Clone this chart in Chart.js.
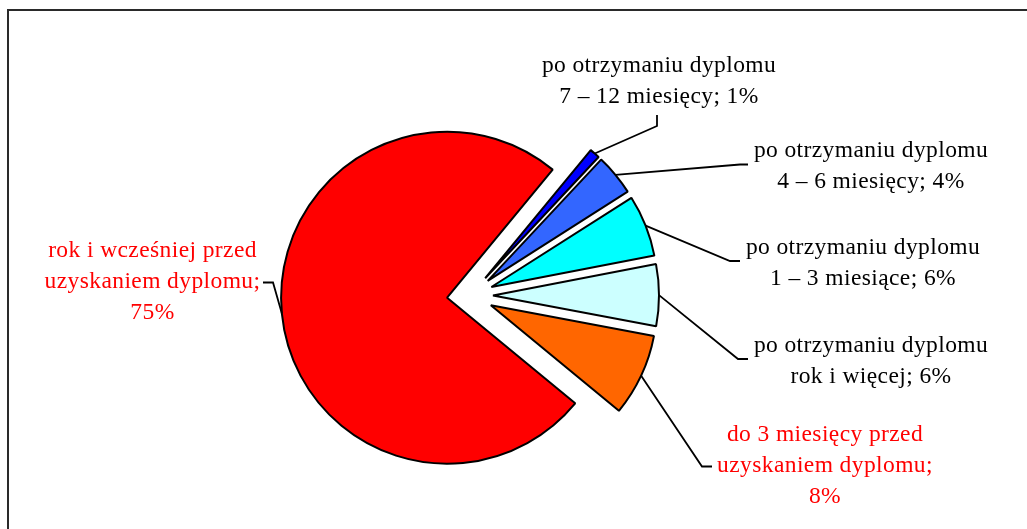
<!DOCTYPE html>
<html><head><meta charset="utf-8">
<script src="https://cdn.jsdelivr.net/npm/chart.js@4.4.0/dist/chart.umd.min.js"></script>
<style>html,body{margin:0;padding:0;background:#fff;overflow:hidden}canvas{display:block}</style>
</head><body>
<canvas id="c" width="1027" height="529"></canvas>
<script>
// ---- data ----
const categories = [
  ["po otrzymaniu dyplomu", "7 – 12 miesięcy"],
  ["po otrzymaniu dyplomu", "4 – 6 miesięcy"],
  ["po otrzymaniu dyplomu", "1 – 3 miesiące"],
  ["po otrzymaniu dyplomu", "rok i więcej"],
  ["do 3 miesięcy przed", "uzyskaniem dyplomu"],
  ["rok i wcześniej przed", "uzyskaniem dyplomu"]
];
const values = [1, 4, 6, 6, 8, 75];

// ---- styles ----
const sliceColors = ["#0000FF", "#3366FF", "#00FFFF", "#CCFFFF", "#FF6600", "#FF0000"];
const labelColors = ["#000000", "#000000", "#000000", "#000000", "#FF0000", "#FF0000"];
const EXPLODE = 23;
const FONT = '23.5px "Liberation Serif", "Times New Roman", serif';
const LETTER_SPACING = '0.4px';
const LINE_H = 31;
const WRAP_W = 245;

// label placement: text centre x, first baseline y, leader elbow and end near text
const labelLayout = [
  {cx: 659, y: 71.5, elbow: [657, 126], end: [657, 115]},
  {cx: 871, y: 156.5, elbow: [740, 164.5], end: [748, 164.5]},
  {cx: 863, y: 253.5, elbow: [730, 261], end: [740, 261]},
  {cx: 871, y: 351.5, elbow: [738, 359], end: [748, 359]},
  {cx: 825, y: 441, elbow: [702, 466.5], end: [712, 466.5]},
  {cx: 152.5, y: 256.5, elbow: [273, 282.5], end: [263, 282.5]}
];

const framePlugin = {
  id: 'frame',
  beforeDraw(chart) {
    const ctx = chart.ctx;
    ctx.save();
    ctx.strokeStyle = '#2a2a2a';
    ctx.lineWidth = 2;
    ctx.strokeRect(8, 10, 1200, 800);
    ctx.restore();
  }
};

const explodePlugin = {
  id: 'explode',
  afterDatasetUpdate(chart, args) {
    args.meta.data.forEach(arc => {
      const mid = (arc.startAngle + arc.endAngle) / 2;
      arc.x += Math.cos(mid) * EXPLODE;
      arc.y += Math.sin(mid) * EXPLODE;
    });
  }
};

function wrapLabel(ctx, lines, value) {
  const out = lines.slice(0, -1);
  const last = lines[lines.length - 1];
  const joined = last + '; ' + value + '%';
  if (ctx.measureText(joined).width <= WRAP_W) {
    out.push(joined);
  } else {
    out.push(last + ';');
    out.push(value + '%');
  }
  return out;
}

const labelPlugin = {
  id: 'pieLabels',
  afterDatasetsDraw(chart) {
    const ctx = chart.ctx;
    const meta = chart.getDatasetMeta(0);
    const ds = chart.data.datasets[0];
    ctx.save();
    ctx.font = FONT;
    ctx.letterSpacing = LETTER_SPACING;
    ctx.textAlign = 'center';
    ctx.textBaseline = 'alphabetic';
    meta.data.forEach((arc, i) => {
      const L = labelLayout[i];
      const mid = (arc.startAngle + arc.endAngle) / 2;
      const px = arc.x + Math.cos(mid) * arc.outerRadius;
      const py = arc.y + Math.sin(mid) * arc.outerRadius;
      ctx.strokeStyle = '#000';
      ctx.lineWidth = 1.8;
      ctx.beginPath();
      ctx.moveTo(px, py);
      ctx.lineTo(L.elbow[0], L.elbow[1]);
      ctx.lineTo(L.end[0], L.end[1]);
      ctx.stroke();
      const lines = wrapLabel(ctx, chart.data.labels[i], ds.data[i]);
      ctx.fillStyle = labelColors[i];
      lines.forEach((t, k) => ctx.fillText(t, L.cx, L.y + k * LINE_H));
    });
    ctx.restore();
  }
};

new Chart(document.getElementById('c'), {
  type: 'pie',
  data: {
    labels: categories,
    datasets: [{
      data: values,
      backgroundColor: sliceColors,
      borderColor: '#000000',
      borderWidth: 2
    }]
  },
  options: {
    responsive: false,
    animation: false,
    events: [],
    rotation: 39.5,
    radius: 166,
    layout: {padding: {left: 0, right: 87, top: 62, bottom: 0}},
    plugins: {
      legend: {display: false},
      tooltip: {enabled: false}
    }
  },
  plugins: [framePlugin, explodePlugin, labelPlugin]
});
</script>
</body></html>
